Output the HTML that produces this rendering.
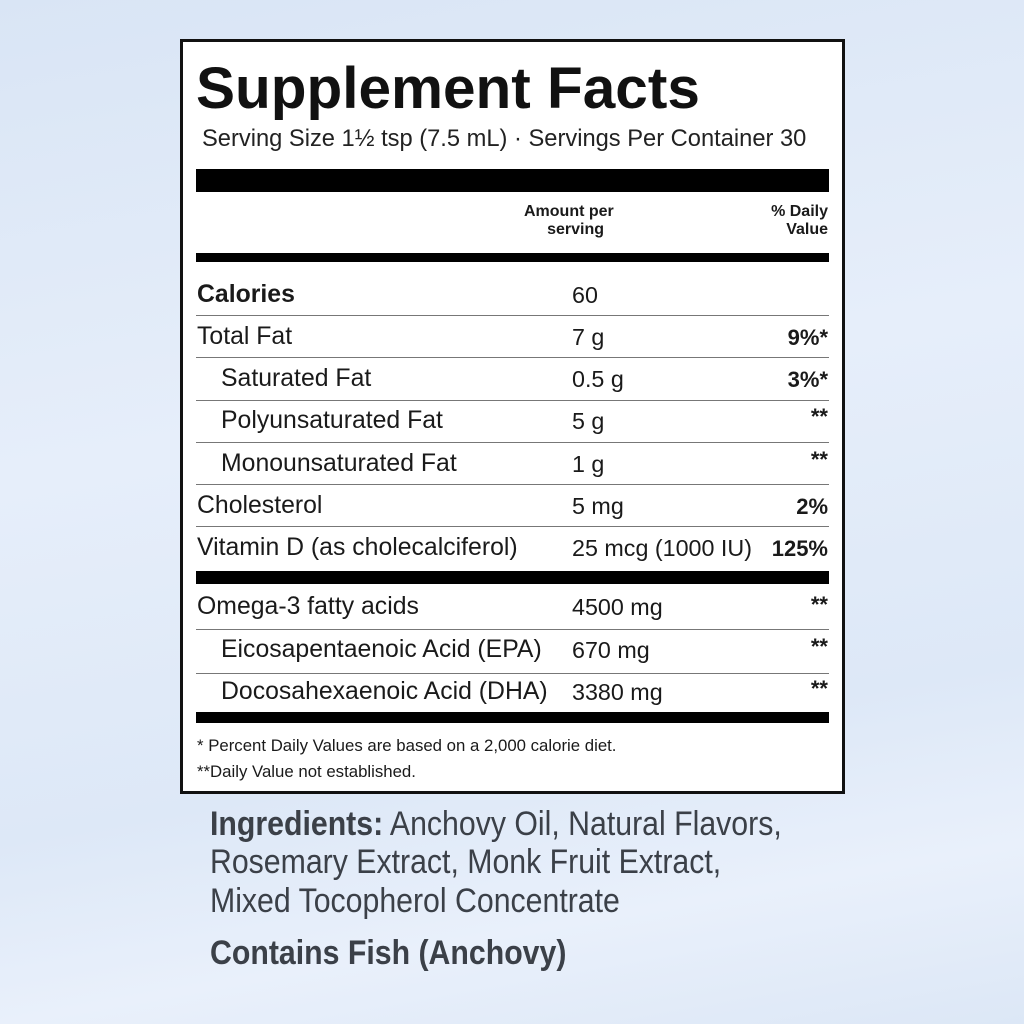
<!DOCTYPE html>
<html><head><style>
*{margin:0;padding:0;box-sizing:border-box}
body{width:1024px;height:1024px;overflow:hidden;position:relative;font-family:"Liberation Sans",sans-serif;
background:linear-gradient(170deg,#d9e5f5 0%,#e6eefa 40%,#dde8f7 70%,#e9f0fb 85%,#dce7f6 100%);}
.box{position:absolute;left:180px;top:39px;width:665px;height:755px;background:#fff;border:3px solid #111;}
.t{position:absolute;white-space:nowrap;color:#1a1a1a}
.bar{position:absolute;left:196px;width:633px;background:#000}
.ln{position:absolute;left:196px;width:633px;height:1px;background:#777}
.r{font-size:24.8px;letter-spacing:0px}
.a{font-size:23.3px}
.dv{position:absolute;right:196px;font-weight:bold;font-size:22px;white-space:nowrap;color:#1a1a1a;text-align:right}
.ing{position:absolute;left:210px;font-size:34px;color:#3b4048;white-space:nowrap;transform:scaleX(0.89);transform-origin:0 0}
</style></head><body>
<div class="box"></div>
<div class="t" style="left:196px;top:55px;font-size:58.5px;font-weight:bold;color:#111">Supplement Facts</div>
<div class="t" style="left:202px;top:126px;font-size:23.7px;color:#222">Serving Size 1½ tsp (7.5 mL) · Servings Per Container 30</div>
<div class="bar" style="top:169px;height:23px"></div>
<div class="t" style="left:524px;top:203px;font-size:16px;font-weight:bold;text-align:center;line-height:18px">Amount per<br>&nbsp;&nbsp;&nbsp;serving</div>
<div class="t" style="right:196px;top:203px;font-size:16px;font-weight:bold;text-align:right;line-height:18px">% Daily<br>Value</div>
<div class="bar" style="top:253px;height:9px"></div>

<div class="t r" style="left:197px;top:281px;font-weight:bold">Calories</div><div class="t a" style="left:572px;top:282px">60</div>
<div class="ln" style="top:315px"></div>
<div class="t r" style="left:197px;top:323px">Total Fat</div><div class="t a" style="left:572px;top:324px">7 g</div><div class="dv" style="top:325px">9%*</div>
<div class="ln" style="top:357px"></div>
<div class="t r" style="left:221px;top:365px">Saturated Fat</div><div class="t a" style="left:572px;top:366px">0.5 g</div><div class="dv" style="top:367px">3%*</div>
<div class="ln" style="top:400px"></div>
<div class="t r" style="left:221px;top:407px">Polyunsaturated Fat</div><div class="t a" style="left:572px;top:408px">5 g</div><div class="dv" style="top:404px">**</div>
<div class="ln" style="top:442px"></div>
<div class="t r" style="left:221px;top:450px">Monounsaturated Fat</div><div class="t a" style="left:572px;top:451px">1 g</div><div class="dv" style="top:447px">**</div>
<div class="ln" style="top:484px"></div>
<div class="t r" style="left:197px;top:492px">Cholesterol</div><div class="t a" style="left:572px;top:493px">5 mg</div><div class="dv" style="top:494px">2%</div>
<div class="ln" style="top:526px"></div>
<div class="t r" style="left:197px;top:534px">Vitamin D (as cholecalciferol)</div><div class="t a" style="left:572px;top:535px">25 mcg (1000 IU)</div><div class="dv" style="top:536px">125%</div>
<div class="bar" style="top:571px;height:13px"></div>
<div class="t r" style="left:197px;top:593px">Omega-3 fatty acids</div><div class="t a" style="left:572px;top:594px">4500 mg</div><div class="dv" style="top:592px">**</div>
<div class="ln" style="top:629px"></div>
<div class="t r" style="left:221px;top:636px">Eicosapentaenoic Acid (EPA)</div><div class="t a" style="left:572px;top:637px">670 mg</div><div class="dv" style="top:634px">**</div>
<div class="ln" style="top:673px"></div>
<div class="t r" style="left:221px;top:678px">Docosahexaenoic Acid (DHA)</div><div class="t a" style="left:572px;top:679px">3380 mg</div><div class="dv" style="top:676px">**</div>
<div class="bar" style="top:712px;height:11px"></div>
<div class="t" style="left:197px;top:736px;font-size:16.8px">* Percent Daily Values are based on a 2,000 calorie diet.</div>
<div class="t" style="left:197px;top:762px;font-size:16.8px">**Daily Value not established.</div>

<div class="ing" style="top:805px"><b>Ingredients:</b> Anchovy Oil, Natural Flavors,</div>
<div class="ing" style="top:843px">Rosemary Extract, Monk Fruit Extract,</div>
<div class="ing" style="top:882px">Mixed Tocopherol Concentrate</div>
<div class="ing" style="top:934px;font-weight:bold">Contains Fish (Anchovy)</div>
</body></html>
